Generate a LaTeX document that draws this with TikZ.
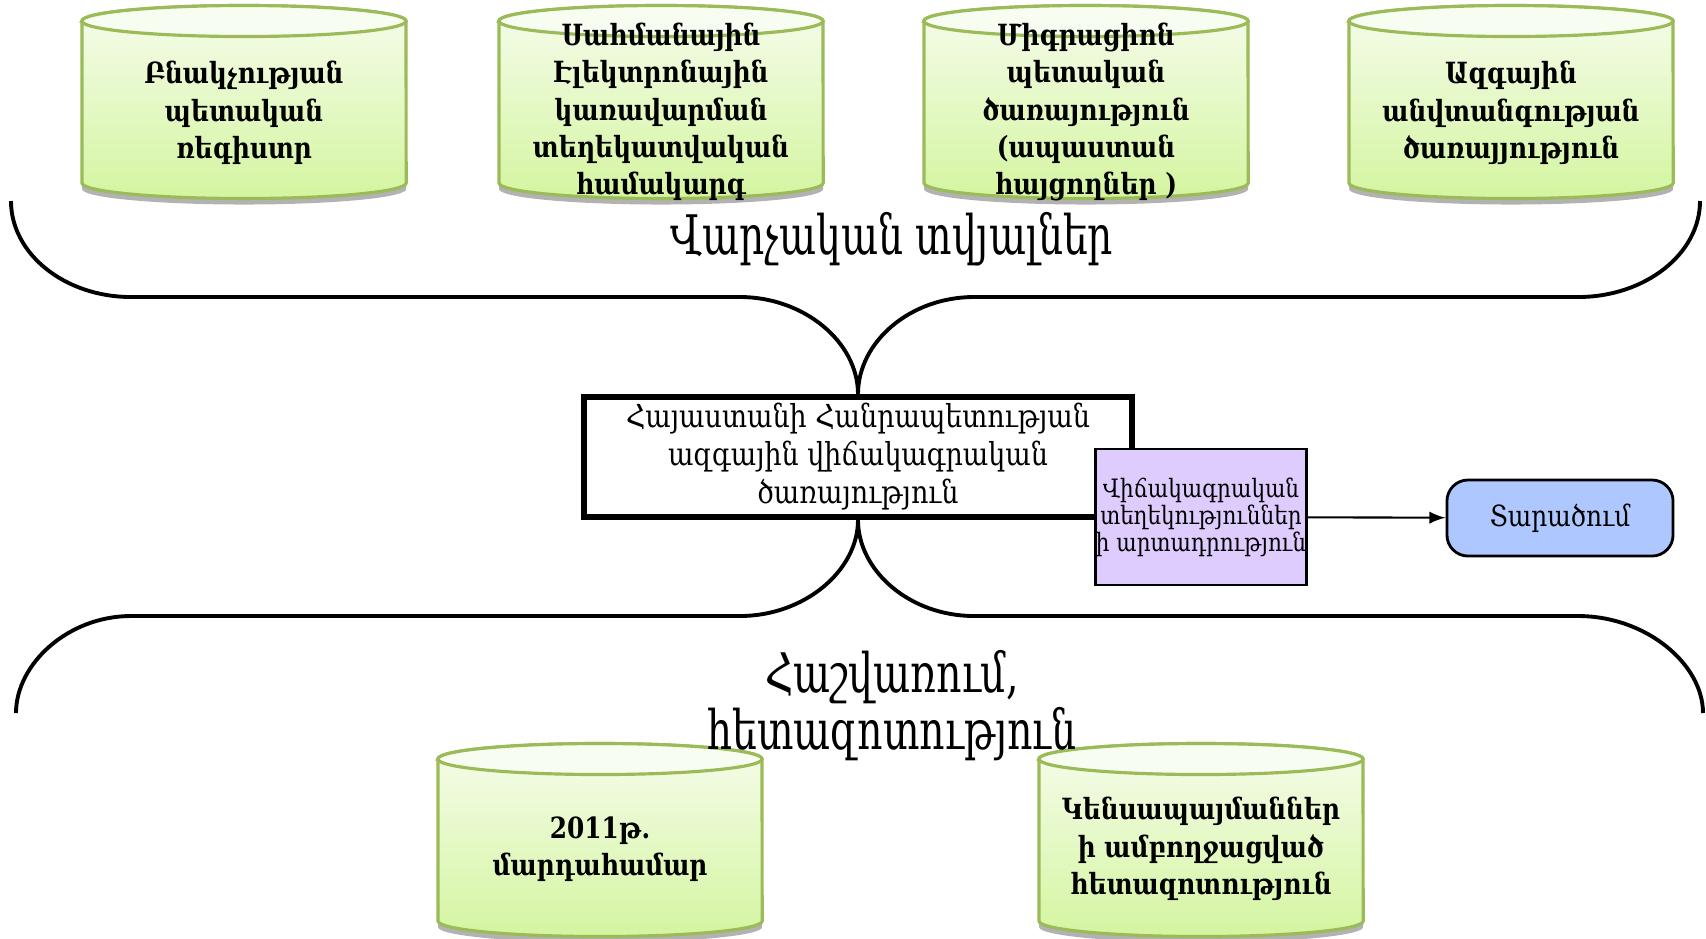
\documentclass[tikz,border=0pt]{standalone}
\usepackage{fontspec}
\setmainfont[FakeStretch=0.85]{DejaVu Serif}
\newfontfamily\armtall[FakeStretch=0.72]{DejaVu Serif}
\usetikzlibrary{positioning}

\definecolor{dbline}{HTML}{9BBB59}
\definecolor{dbtop}{HTML}{F6FCEC}
\definecolor{dbbot}{HTML}{D4F5A0}
\definecolor{dbcap}{HTML}{F8FDF2}
\definecolor{prodlila}{HTML}{DFCCFF}
\definecolor{spreadblue}{HTML}{AEC8FF}

% database drum, centre given in px
\newcommand\dbcyl[2]{%
  \fill[gray!60,yshift=-0.06cm] (#1-162,#2-81) -- (#1-162,#2+81)
    arc[start angle=180,end angle=360,x radius=1.62cm,y radius=0.155cm] -- (#1+162,#2-81) -- cycle;
  \shadedraw[top color=dbtop,bottom color=dbbot,draw=dbline,line width=0.9pt] (#1-162,#2-81) -- (#1-162,#2+81)
    arc[start angle=180,end angle=360,x radius=1.62cm,y radius=0.155cm] -- (#1+162,#2-81)
    arc[start angle=0,end angle=180,x radius=1.62cm,y radius=0.155cm] -- cycle;
  \filldraw[fill=dbcap,draw=dbline,line width=0.9pt] (#1,#2-81) ellipse[x radius=1.62cm,y radius=0.155cm];
}

\tikzset{
  dbtext/.style={align=center, font=\fontsize{8.3}{10.6}\selectfont\bfseries},
  bigtext/.style={align=center, font=\armtall\fontsize{15.5}{14.8}\selectfont},
  brace/.style={line width=1.1pt},
}

\begin{document}
\begin{tikzpicture}[x=0.01cm,y=-0.01cm]
\useasboundingbox (0,0) rectangle (1706,938);
% administrative sources
\dbcyl{244}{102}
\dbcyl{661}{102}
\dbcyl{1086}{102}
\dbcyl{1511}{102}
\node[dbtext] (popreg) at (244,113) {Բնակչության\\պետական\\ռեգիստր};
\node[dbtext] (border) at (661,112) {Սահմանային\\Էլեկտրոնային\\կառավարման\\տեղեկատվական\\համակարգ};
\node[dbtext] (migr) at (1086,112) {Միգրացիոն\\պետական\\ծառայություն\\(ապաստան\\հայցողներ )};
\node[dbtext] (secur) at (1511,113) {Ազգային\\անվտանգության\\ծառայյություն};
% surveys
\dbcyl{600}{840}
\dbcyl{1201}{840}
\node[dbtext] (census) at (600,849) {2011թ.\\մարդահամար};
\node[dbtext] (ilcs) at (1201,849) {Կենսապայմաններ\\ի ամբողջացված\\հետազոտություն};

% statistical service
\node[draw, line width=1.6pt, fill=white, minimum width=5.48cm, minimum height=1.2cm, inner sep=0pt,
  align=center, font=\fontsize{9}{10.8}\selectfont] (nsso) at (858,457)
  {Հայաստանի Հանրապետության\\ազգային վիճակագրական\\ծառայություն};
\node[draw, line width=0.8pt, fill=prodlila, minimum width=2.11cm, minimum height=1.36cm, inner sep=0pt,
  align=center, font=\fontsize{7.2}{7.7}\selectfont] (prod) at (1201,517)
  {Վիճակագրական\\տեղեկություններ\\ի արտադրություն};
\node[draw, line width=0.8pt, fill=spreadblue, rounded corners=6pt, minimum width=2.26cm,
  minimum height=0.76cm, inner sep=0pt, font=\fontsize{8.3}{10}\selectfont] (spread) at (1560,518) {Տարածում};
\draw[-latex, line width=0.6pt] (prod) -- (spread);

% braces
\coordinate (topL) at (11,201);
\coordinate (topR) at (1700,201);
\coordinate (botL) at (16,713);
\coordinate (botR) at (1703,713);
\draw[brace] (topL) .. controls (11,254) and (65,297) .. (131,297) -- (740,297)
  .. controls (804,297) and (nsso.north |- 0,342) .. (nsso.north);
\draw[brace] (topR) .. controls (1700,254) and (1645,297) .. (1578,297) -- (974,297)
  .. controls (910,297) and (nsso.north |- 0,342) .. (nsso.north);
\draw[brace] (nsso.south) .. controls (nsso.south |- 0,571) and (804,616) .. (740,616) -- (131,616)
  .. controls (68,616) and (16,664) .. (botL);
\draw[brace] (nsso.south) .. controls (nsso.south |- 0,571) and (910,616) .. (974,616) -- (1578,616)
  .. controls (1646,616) and (1703,664) .. (botR);

\node[bigtext] (admin) at (892,239) {Վարչական տվյալներ};
\node[bigtext] (survey) at (892,706) {Հաշվառում,\\հետազոտություն};
\end{tikzpicture}
\end{document}
